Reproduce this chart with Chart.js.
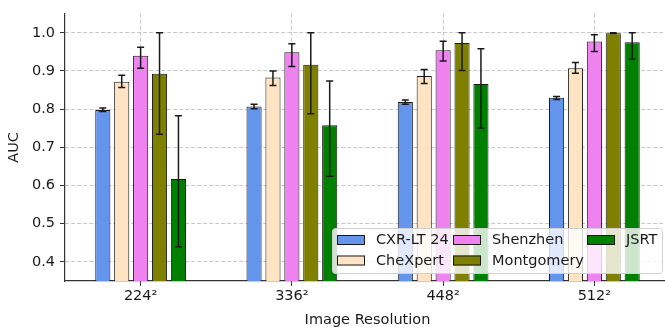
<!DOCTYPE html>
<html>
<head>
<meta charset="utf-8">
<script src="https://cdn.jsdelivr.net/npm/chart.js@4/dist/chart.umd.min.js"></script>
<style>
  body { margin: 0; overflow: hidden; background: #fff; }
  #wrap { width: 670px; height: 332px; }
</style>
</head>
<body>
<div id="wrap"><canvas id="chart"></canvas></div>
<script>
// resolutions on the x axis
const resolutions = ['224\u00b2', '336\u00b2', '448\u00b2', '512\u00b2'];
const yTickValues = [0.4, 0.5, 0.6, 0.7, 0.8, 0.9, 1.0];

// mean AUC per dataset, with lower / upper error bounds
const cxrlt = [0.798, 0.807, 0.819, 0.830];
const cxrltLo = [0.794, 0.801, 0.813, 0.825];
const cxrltHi = [0.803, 0.813, 0.824, 0.833];

const chexpert = [0.872, 0.883, 0.887, 0.907];
const chexpertLo = [0.857, 0.862, 0.867, 0.894];
const chexpertHi = [0.889, 0.900, 0.904, 0.922];

const shenzhen = [0.940, 0.949, 0.954, 0.977];
const shenzhenLo = [0.907, 0.912, 0.926, 0.951];
const shenzhenHi = [0.962, 0.971, 0.978, 0.995];

const montgomery = [0.893, 0.916, 0.973, 0.999];
const montgomeryLo = [0.734, 0.788, 0.901, 0.998];
const montgomeryHi = [1.0, 1.0, 1.0, 1.0];

const jsrt = [0.617, 0.758, 0.866, 0.975];
const jsrtLo = [0.440, 0.624, 0.751, 0.931];
const jsrtHi = [0.783, 0.874, 0.958, 1.0];

const FONT = 'DejaVu Sans';
const FSIZE = 14.5;
const TEXT = '#1a1a1a';

function makeSet(label, data, lo, hi, color) {
    return {
        label: label,
        data: data,
        errLo: lo,
        errHi: hi,
        backgroundColor: color,
        borderColor: '#1a1a1a',
        borderWidth: 1,
        borderSkipped: false,
        clip: 0,
        categoryPercentage: 0.625,
        barPercentage: 0.8,
    };
}

const errorBars = {
    id: 'errorBars',
    afterDatasetsDraw(chart) {
        const ctx = chart.ctx;
        const yScale = chart.scales.y;
        ctx.save();
        ctx.strokeStyle = '#1a1a1a';
        ctx.lineWidth = 1.5;
        chart.data.datasets.forEach((ds, i) => {
            const meta = chart.getDatasetMeta(i);
            meta.data.forEach((bar, j) => {
                const x = bar.x;
                const y1 = yScale.getPixelForValue(ds.errLo[j]);
                const y2 = yScale.getPixelForValue(ds.errHi[j]);
                ctx.beginPath();
                ctx.moveTo(x, y1); ctx.lineTo(x, y2);
                ctx.moveTo(x - 3.5, y1); ctx.lineTo(x + 3.5, y1);
                ctx.moveTo(x - 3.5, y2); ctx.lineTo(x + 3.5, y2);
                ctx.stroke();
            });
        });
        ctx.restore();
    }
};

// matplotlib style legend, 3 columns filled column by column
const boxLegend = {
    id: 'boxLegend',
    afterDraw(chart) {
        const ctx = chart.ctx;
        const sets = chart.data.datasets;
        const colX = [337, 453, 587];
        const rowY = [240, 260.5];
        ctx.save();
        ctx.beginPath();
        ctx.roundRect(332.5, 228.5, 330, 45, 3);
        ctx.fillStyle = 'rgba(255,255,255,0.8)';
        ctx.fill();
        ctx.strokeStyle = '#d0d0d0';
        ctx.lineWidth = 1;
        ctx.stroke();
        ctx.font = FSIZE + 'px "' + FONT + '"';
        ctx.textBaseline = 'middle';
        sets.forEach((ds, i) => {
            const col = Math.floor(i / 2);
            const row = i % 2;
            const x = colX[col];
            const y = rowY[row];
            ctx.fillStyle = ds.backgroundColor;
            ctx.fillRect(x, y - 5, 28, 10);
            ctx.strokeStyle = '#1a1a1a';
            ctx.strokeRect(x + 0.5, y - 4.5, 27, 9);
            ctx.fillStyle = TEXT;
            ctx.fillText(ds.label, x + 39, y + 0.5);
        });
        ctx.restore();
    }
};

new Chart(document.getElementById('chart'), {
    type: 'bar',
    data: {
        labels: resolutions,
        datasets: [
            makeSet('CXR-LT 24', cxrlt, cxrltLo, cxrltHi, '#6495ED'),
            makeSet('CheXpert', chexpert, chexpertLo, chexpertHi, '#FFE4C4'),
            makeSet('Shenzhen', shenzhen, shenzhenLo, shenzhenHi, '#EE82EE'),
            makeSet('Montgomery', montgomery, montgomeryLo, montgomeryHi, '#808000'),
            makeSet('JSRT', jsrt, jsrtLo, jsrtHi, '#008000'),
        ]
    },
    options: {
        responsive: true,
        maintainAspectRatio: false,
        animation: false,
        layout: { padding: { top: 4, left: 0, right: 0, bottom: 0 } },
        plugins: {
            legend: { display: false },
            tooltip: { enabled: false },
        },
        scales: {
            x: {
                offset: true,
                afterFit: (scale) => { scale.height = 51; },
                grid: {
                    offset: false,
                    color: 'rgba(176,176,176,0.7)',
                    tickColor: '#333',
                    tickLength: 5,
                    tickWidth: 1,
                },
                border: { color: '#333', width: 1.2, dash: [4, 2] },
                ticks: {
                    color: TEXT,
                    padding: 2,
                    font: { family: FONT, size: FSIZE },
                },
                title: {
                    display: true,
                    text: 'Image Resolution',
                    color: TEXT,
                    font: { family: FONT, size: FSIZE },
                    padding: { top: 0, bottom: 3 },
                },
            },
            y: {
                min: 0.35,
                max: 1.05,
                afterFit: (scale) => { scale.width = 65; },
                afterBuildTicks: (scale) => {
                    scale.ticks = yTickValues.map(v => ({ value: v }));
                },
                grid: {
                    color: 'rgba(176,176,176,0.7)',
                    tickColor: '#333',
                    tickLength: 5,
                    tickWidth: 1,
                },
                border: { color: '#333', width: 1.2, dash: [4, 2] },
                ticks: {
                    color: TEXT,
                    padding: 5,
                    font: { family: FONT, size: FSIZE },
                    callback: (v) => Number(v).toFixed(1),
                },
                title: {
                    display: true,
                    text: 'AUC',
                    color: TEXT,
                    font: { family: FONT, size: FSIZE },
                    padding: { top: 6, bottom: 0 },
                },
            },
        },
    },
    plugins: [errorBars, boxLegend],
});
</script>
</body>
</html>
